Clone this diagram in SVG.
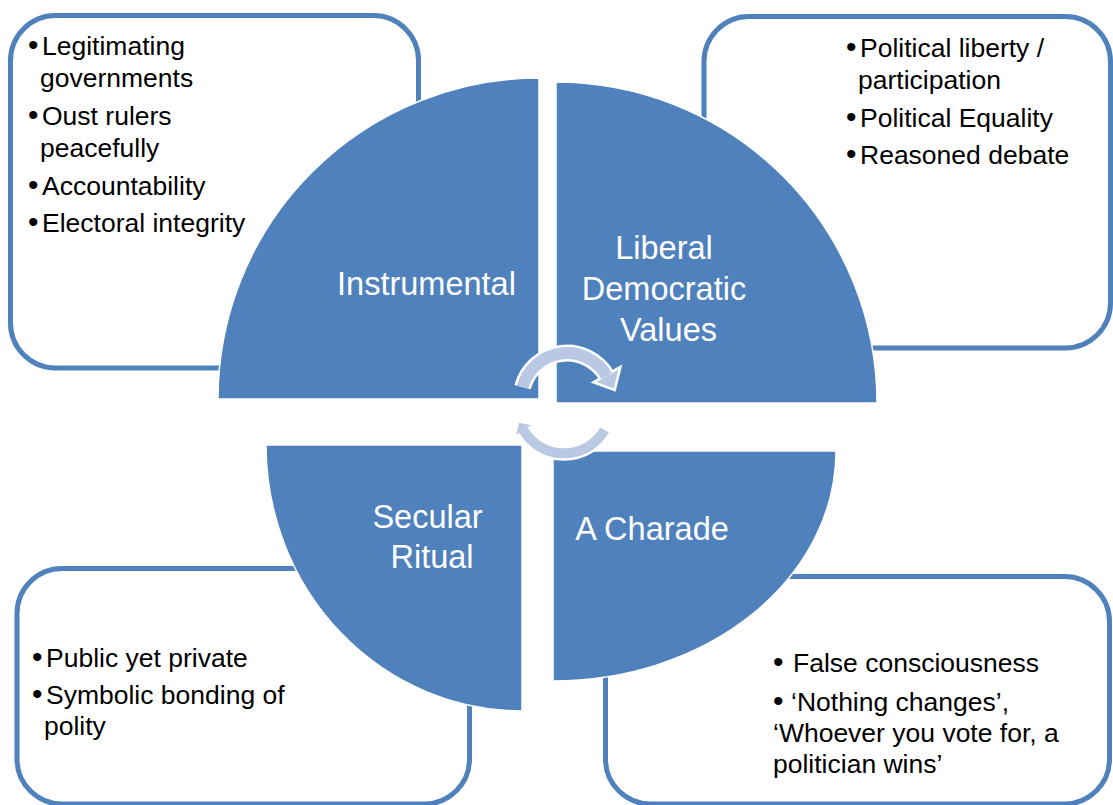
<svg xmlns="http://www.w3.org/2000/svg" width="1113" height="805" viewBox="0 0 1113 805">
  <style>
    .box{fill:#ffffff;stroke:#4F81BD;stroke-width:5}
    .sector{fill:#4F81BD;stroke:#ffffff;stroke-width:1.5}
    .body{font-family:"Liberation Sans",Arial,sans-serif;font-size:26.5px;fill:#000000}
    .bul{font-size:30px}
    .label{font-family:"Liberation Sans",Arial,sans-serif;font-size:32.5px;fill:#ffffff}
    .arcw{fill:none;stroke:#ffffff;stroke-linecap:butt}
    .arcb{fill:none;stroke:#B9C9E3;stroke-linecap:butt}
    .headw{fill:#ffffff;stroke:#ffffff;stroke-width:5;stroke-linejoin:miter}
    .headb{fill:#B9C9E3}
  </style>
  <rect width="1113" height="805" fill="#ffffff"/>

  <!-- outer text boxes -->
  <g id="box-instrumental">
    <rect class="box" x="10.5" y="15.5" width="408" height="352.5" rx="45"/>
    <text class="body">
      <tspan class="bul" x="28" y="55">•</tspan><tspan x="42" y="55">Legitimating</tspan>
      <tspan x="40" y="87">governments</tspan>
      <tspan class="bul" x="28" y="125">•</tspan><tspan x="42" y="125">Oust rulers</tspan>
      <tspan x="40" y="157">peacefully</tspan>
      <tspan class="bul" x="28" y="195">•</tspan><tspan x="42" y="195">Accountability</tspan>
      <tspan class="bul" x="28" y="232">•</tspan><tspan x="42" y="232">Electoral integrity</tspan>
    </text>
  </g>
  <g id="box-liberal">
    <rect class="box" x="704" y="16.5" width="406.5" height="331.5" rx="45"/>
    <text class="body">
      <tspan class="bul" x="846" y="57">•</tspan><tspan x="860" y="57">Political liberty /</tspan>
      <tspan x="858" y="89">participation</tspan>
      <tspan class="bul" x="846" y="127">•</tspan><tspan x="860" y="127">Political Equality</tspan>
      <tspan class="bul" x="846" y="164">•</tspan><tspan x="860" y="164">Reasoned debate</tspan>
    </text>
  </g>
  <g id="box-secular">
    <rect class="box" x="17" y="568.5" width="452.5" height="235.5" rx="45"/>
    <text class="body">
      <tspan class="bul" x="32" y="667">•</tspan><tspan x="46" y="667">Public yet private</tspan>
      <tspan class="bul" x="32" y="704">•</tspan><tspan x="46" y="704">Symbolic bonding of</tspan>
      <tspan x="44" y="735">polity</tspan>
    </text>
  </g>
  <g id="box-charade">
    <rect class="box" x="605.5" y="576.5" width="504" height="227.5" rx="45"/>
    <text class="body">
      <tspan class="bul" x="773" y="672">•</tspan><tspan x="793" y="672">False consciousness</tspan>
      <tspan class="bul" x="773" y="711">•</tspan><tspan x="791" y="711">‘Nothing changes’,</tspan>
      <tspan x="773" y="742">‘Whoever you vote for, a</tspan>
      <tspan x="773" y="773">politician wins’</tspan>
    </text>
  </g>

  <!-- quarter sectors -->
  <g id="sector-instrumental">
    <path class="sector" d="M539,399 L218,399 A321,321 0 0 1 539,78 Z"/>
    <text class="label" x="426.5" y="295" text-anchor="middle">Instrumental</text>
  </g>
  <g id="sector-liberal">
    <path class="sector" d="M556,403 L556,82 A321,321 0 0 1 877,403 Z"/>
    <text class="label" text-anchor="middle">
      <tspan x="668.5" y="259">Liberal</tspan>
      <tspan x="668.5" y="300">Democratic</tspan>
      <tspan x="668.5" y="341">Values</tspan>
    </text>
  </g>
  <g id="sector-secular">
    <path class="sector" d="M522,445 L522,711 A256,266 0 0 1 266,445 Z"/>
    <text class="label" text-anchor="middle">
      <tspan x="432" y="528">Secular</tspan>
      <tspan x="432" y="568">Ritual</tspan>
    </text>
  </g>
  <g id="sector-charade">
    <path class="sector" d="M553,451 L836,451 A283,230 0 0 1 553,681 Z"/>
    <text class="label" x="652" y="540" text-anchor="middle">A Charade</text>
  </g>

  <!-- circular arrows -->
  <g id="connectors">
    <path class="arcw" stroke-width="17" d="M522.6,387.1 A46,46 0 0 1 606.8,376"/>
    <polygon class="headw" points="618.5,369.5 596.4,382 613.8,388.5"/>
    <path class="arcb" stroke-width="12" d="M522.6,387.1 A46,46 0 0 1 606.8,376"/>
    <polygon class="headb" points="618.5,369.5 596.4,382 613.8,388.5"/>

    <path class="arcw" stroke-width="15" d="M604.6,430 A47,47 0 0 1 523.4,430"/>
    <polygon class="headw" points="516.2,434.8 531,425.2 519,422.8"/>
    <path class="arcb" stroke-width="10" d="M604.6,430 A47,47 0 0 1 523.4,430"/>
    <polygon class="headb" points="516.2,434.8 531,425.2 519,422.8"/>
  </g>
</svg>
